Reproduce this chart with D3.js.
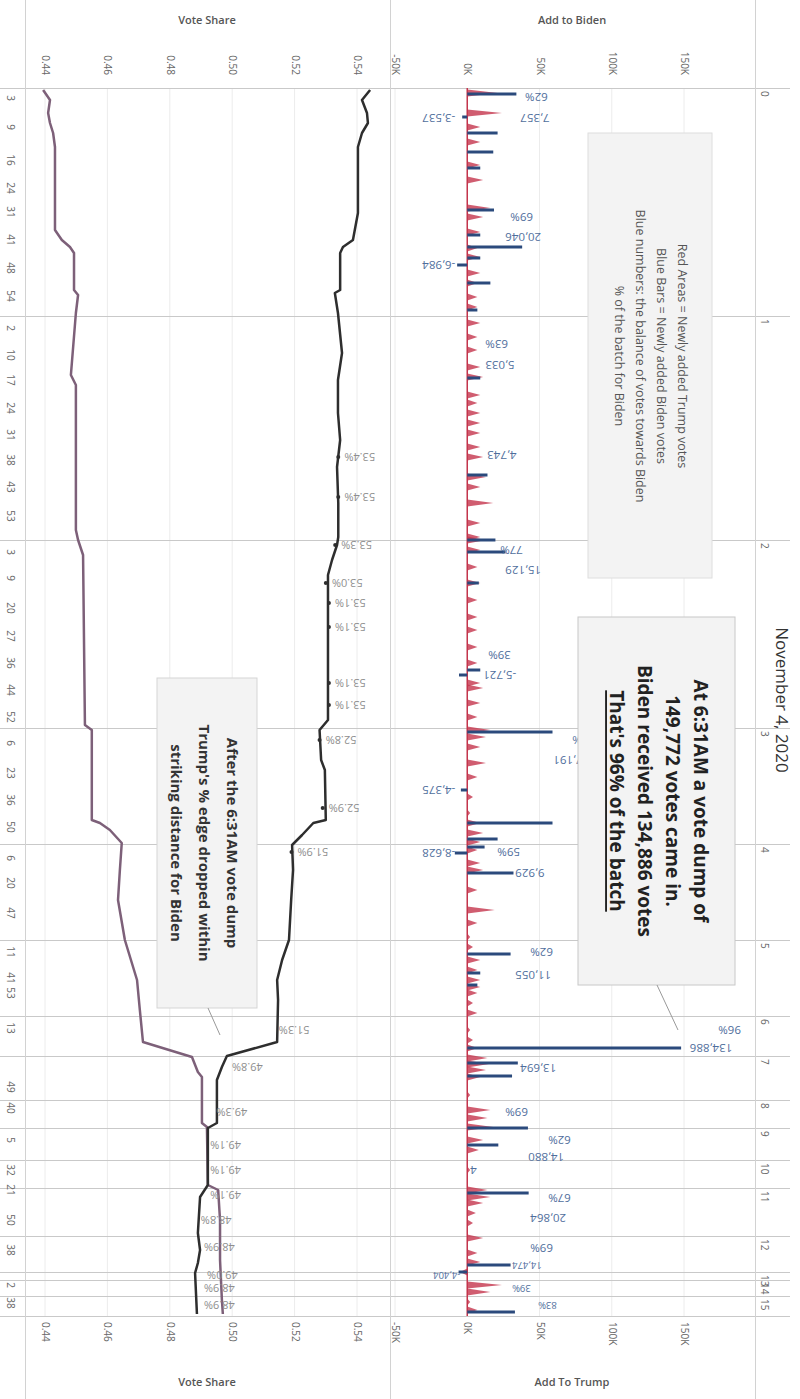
<!DOCTYPE html>
<html><head><meta charset="utf-8">
<script src="https://cdn.jsdelivr.net/npm/d3@7"></script>
<style>body{margin:0;background:#fff;} svg{display:block;font-family:"Open Sans",sans-serif;}</style>
</head><body><svg id="c" width="800" height="1399"></svg>
<script>
// ---------- DATA ----------
const hourLabels = ["0","1","2","3","4","5","6","7","8","9","10","11","12","13","14","15"];
const hourBatches = [57,56,47,29,24,19,10,11,7,8,7,12,9,2,4,5];
// [batch position, minute]
const minuteTicks = [[2.5,3],[9.75,9],[18,16],[25,24],[31,31],[38,41],[45,48],[52,54],
  [60,2],[66.75,10],[73,17],[80,24],[86.75,31],[93,38],[99.75,43],[107,53],
  [116,3],[122.5,9],[130,20],[137,27],[143.75,36],[150.5,44],[157.25,52],
  [163.75,6],[171.25,23],[178,36],[184.75,50],[192.5,6],[198.75,20],[206.25,47],
  [216,11],[222.5,41],[226.25,53],[235,13],[249.75,49],[255,40],[263,5],[270.5,32],
  [275.5,21],[283,50],[290.5,38],[299.25,2],[303.75,38]];
const shareTicks = [0.44,0.46,0.48,0.50,0.52,0.54];
const voteTicks = [-50000,0,50000,100000,150000];
// vote share: [batch position, share]
const trumpShare = [[0.5,0.5442],[3,0.5416],[6.25,0.5432],[8.75,0.5435],[11.25,0.5416],[14.75,0.5403],[31.25,0.5403],[38,0.5387],[39.75,0.5355],[41.25,0.5346],[50.5,0.5346],[51.25,0.5329],[56.25,0.5339],[66.25,0.5352],[73,0.5339],[81.25,0.5339],[88,0.5346],[94.75,0.5336],[103.75,0.5340],[112.25,0.5340],[114.25,0.5336],[118,0.5320],[121.75,0.5307],[158,0.5307],[160.5,0.5280],[168,0.5285],[170.5,0.5297],[183,0.5300],[183.75,0.5260],[186.75,0.5224],[189.25,0.5192],[195.5,0.5195],[203,0.5189],[213,0.5182],[218,0.5160],[223,0.5144],[228,0.5147],[238.5,0.5144],[242,0.4983],[244.75,0.4967],[248,0.4951],[258.75,0.4951],[260,0.4922],[274.25,0.4922],[277.25,0.4897],[286.25,0.4890],[290.5,0.4897],[293.75,0.4890],[296.25,0.4881],[306.5,0.4887]];
const bidenShare = [[0.5,0.4394],[3,0.4416],[6.25,0.4410],[8.75,0.4416],[11.25,0.4426],[14.75,0.4432],[35.5,0.4432],[38,0.4454],[39.75,0.4480],[41.25,0.4493],[50.5,0.4493],[51.75,0.4506],[56.25,0.4499],[71.75,0.4483],[74.25,0.4499],[110.5,0.4499],[113,0.4506],[116.75,0.4522],[159.25,0.4528],[160.5,0.4550],[183,0.4550],[183.75,0.4576],[185.5,0.4608],[188.75,0.4646],[195.5,0.4640],[203,0.4634],[213,0.4656],[223,0.4695],[230.5,0.4704],[238.5,0.4714],[242.25,0.4871],[246,0.4890],[247.25,0.4903],[258.75,0.4903],[259.75,0.4919],[274.25,0.4922],[275.5,0.4955],[283,0.4961],[293,0.4961],[303,0.4967],[306.5,0.4970]];
const trumpShareLabels = [[92.25,"53.4%"],[102.25,"53.4%"],[114.25,"53.3%"],[123.75,"53.0%"],[128.75,"53.1%"],[134.75,"53.1%"],[148.75,"53.1%"],[154.25,"53.1%"],[163,"52.8%"],[180,"52.9%"],[191,"51.9%"],[235.5,"51.3%"],[244.75,"49.8%"],[256,"49.3%"],[264.25,"49.1%"],[270.5,"49.1%"],[276.75,"49.1%"],[283,"48.8%"],[289.75,"48.9%"],[296.75,"49.0%"],[300,"48.9%"],[304.25,"48.9%"]];
// newly added votes per batch: [batch position, votes]
const bidenAdded = [[1.5,34000],[7.25,-3500],[11.25,21000],[16,18000],[20,9000],[30.5,18500],[36.75,9000],[39.75,38000],[42.5,9000],[44.25,-7000],[48.75,16000],[55.5,7000],[72.5,9000],[96.75,14000],[113,19500],[116,26500],[123.75,8000],[145.5,9000],[146.75,-5700],[161,59000],[175.5,-4400],[183.75,59000],[187.75,21000],[189.75,12000],[191.25,-8600],[196.25,32000],[216.5,30000],[221.25,9000],[224.25,7000],[240,148000],[243.75,35000],[247,31000],[260,42000],[264.25,21500],[276.25,42500],[294.25,30000],[296,-6000],[306,33000]];
const trumpAdded = [[1.25,21000],[6.25,24000],[9.75,9000],[13.5,9000],[19.25,9000],[23,11000],[30,16000],[32.25,11000],[36,9000],[40,7000],[42.25,9000],[46.25,9000],[48.75,7000],[52.25,7000],[54.75,7000],[58.75,9000],[62.25,7000],[65.5,7000],[69.75,9000],[72.25,11000],[76.75,9000],[78.75,7000],[81.25,9000],[83.75,9000],[86.25,9000],[89.75,9000],[92.25,11000],[97.25,13000],[99.75,9000],[103.75,18000],[108.75,9000],[112.25,9000],[113,13000],[115.5,9000],[119.75,7000],[123.75,9000],[128,7000],[132.25,7000],[135.5,7000],[139.75,7000],[143.75,7000],[148.75,9000],[150,11000],[153.75,9000],[157.25,7000],[160.5,16000],[162.25,13000],[164.75,9000],[168.75,13000],[172.25,7000],[177.25,4000],[181.25,2000],[183.75,9000],[186.25,11000],[188.5,9000],[190.5,7000],[193.75,9000],[195.5,11000],[200.5,7000],[205.5,19000],[208.75,7000],[212.25,2000],[214.75,4000],[218,9000],[220.5,7000],[223,9000],[224.75,9000],[226.25,7000],[228.75,4000],[231.25,7000],[235.5,2000],[238,4000],[240,7000],[242.5,14000],[244,15000],[245.5,13000],[247.25,9000],[251.75,2000],[255.5,16000],[257.5,14000],[259.75,18000],[263,11000],[265.5,8000],[270.5,2000],[275.5,14000],[277.25,16000],[278.75,11000],[281.25,6000],[283.75,4000],[287.5,11000],[291.25,7000],[293.5,9000],[296,-5000],[299.25,24000],[301,16000],[303.5,2000],[305.5,7000]];
// batch labels: [batch position, text, anchor value]
const batchLabels = [[2.25,"62%",40000],[7.5,"7,357",36700],[7.5,"-3,537",-8300],[32.25,"69%",29800],[37.25,"20,046",26300],[44.25,"-6,984",-8300],[64,"63%",12500],[69.25,"5,033",12500],[91.75,"4,743",13800],[115.5,"77%",22800],[120.5,"15,129",26300],[141.75,"39%",14500],[146.75,"-5,721",11000],[163,"63%",72700],[168,"17,191",59500],[175.5,"-4,375",-8300],[191,"59%",20800],[191.25,"-8,628",-8300],[196.25,"9,929",33200],[216,"62%",43600],[221.75,"11,055",33200],[235.5,"96%",173700],[240,"134,886",154000],[245,"13,694",36700],[256,"69%",26300],[263,"62%",56000],[267.25,"14,880",42200],[270.5,"4",2000],[277.5,"67%",56000],[282.5,"20,864",43600],[290,"69%",43600],[294.25,"14,474",31000],[296.75,"-4,404",-4800],[300,"39%",31000],[304.25,"83%",49000]];
const legendLines = ["Red Areas = Newly added Trump votes","Blue Bars = Newly added Biden votes","Blue numbers: the balance of votes towards Biden","% of the batch for Biden"];
const dumpNote = ["At 6:31AM a vote dump of","149,772 votes came in.","Biden received 134,886 votes","That's 96% of the batch"];
const edgeNote = ["After the 6:31AM vote dump","Trump's % edge dropped within","striking distance for Biden"];
const dateTitle = "November 4, 2020";

// ---------- CHART ----------
const svg = d3.select("#c");
const totalBatches = d3.sum(hourBatches);
const plotTop = 88, plotBot = 1316;
const y = d3.scaleLinear().domain([0,totalBatches]).range([plotTop,plotBot]);
const xS = d3.scaleLinear().domain([0.44,0.54]).range([45,357]);
const xV = d3.scaleLinear().domain([-50000,150000]).range([395,684]);
const starts = [0]; hourBatches.forEach((n,i)=>starts.push(starts[i]+n));

svg.append("rect").attr("width",800).attr("height",1399).attr("fill","#fff");

// vertical gridlines
const grid = svg.append("g").attr("stroke","#ececec").attr("stroke-width",1);
shareTicks.forEach(t=>grid.append("line").attr("x1",xS(t)).attr("x2",xS(t)).attr("y1",plotTop).attr("y2",plotBot));
voteTicks.forEach(t=>grid.append("line").attr("x1",xV(t)).attr("x2",xV(t)).attr("y1",plotTop).attr("y2",plotBot));

// hour boundaries
const hl = svg.append("g").attr("stroke","#c9c9c9").attr("stroke-width",1);
starts.forEach(s=>hl.append("line").attr("x1",0).attr("x2",790).attr("y1",Math.round(y(s))+0.5).attr("y2",Math.round(y(s))+0.5));
// frame
const fr = svg.append("g").attr("stroke","#d2d2d2");
[25,390,755].forEach(x=>fr.append("line").attr("x1",x+0.5).attr("x2",x+0.5).attr("y1",0).attr("y2",1399));

// minute labels
svg.append("g").selectAll("text").data(minuteTicks).join("text")
  .attr("transform",d=>`translate(11,${y(d[0])}) rotate(90)`)
  .attr("text-anchor","middle").attr("dominant-baseline","central")
  .attr("font-size",10).attr("fill","#666").text(d=>d[1]);
// hour labels
svg.append("g").selectAll("text").data(hourLabels).join("text")
  .attr("transform",(d,i)=>`translate(765,${y(starts[i])+3}) rotate(90)`)
  .attr("text-anchor","start").attr("dominant-baseline","central")
  .attr("font-size",10).attr("fill","#666").text(d=>d);

// axes
function styleAxis(g, anchor, dx){
  g.select(".domain").remove();
  g.selectAll("line").remove();
  g.selectAll("text").attr("transform","rotate(90)").attr("x",dx).attr("y",0).attr("dy","0.35em")
   .attr("text-anchor",anchor).attr("font-size",10).attr("fill","#666").attr("font-family","Open Sans, sans-serif");
}
const fmtS = d3.format(".2f");
const fmtV = d=> (d/1000)+"K";
svg.append("g").attr("transform","translate(0,77)").call(d3.axisTop(xS).tickValues(shareTicks).tickFormat(fmtS).tickSize(0)).call(g=>styleAxis(g,"end",-2));
svg.append("g").attr("transform","translate(0,77)").call(d3.axisTop(xV).tickValues(voteTicks).tickFormat(fmtV).tickSize(0)).call(g=>styleAxis(g,"end",-2));
svg.append("g").attr("transform","translate(0,1320)").call(d3.axisBottom(xS).tickValues(shareTicks).tickFormat(fmtS).tickSize(0)).call(g=>styleAxis(g,"start",2));
svg.append("g").attr("transform","translate(0,1320)").call(d3.axisBottom(xV).tickValues(voteTicks).tickFormat(fmtV).tickSize(0)).call(g=>styleAxis(g,"start",2));
const titles = [["Vote Share",207,24],["Add to Biden",572,24],["Vote Share",207,1386],["Add To Trump",572,1386]];
svg.append("g").selectAll("text").data(titles).join("text").attr("x",d=>d[1]).attr("y",d=>d[2])
  .attr("text-anchor","middle").attr("font-size",11).attr("font-weight",600).attr("fill","#555").text(d=>d[0]);

// red areas (Trump added)
svg.append("line").attr("x1",xV(0)).attr("x2",xV(0)).attr("y1",plotTop).attr("y2",plotBot).attr("stroke","#c4354c").attr("stroke-width",1.5);
const spike = d3.area().y(d=>y(d[0])).x0(xV(0)).x1(d=>xV(d[1]));
svg.append("g").selectAll("path").data(trumpAdded).join("path")
  .attr("d",d=>spike([[d[0]-0.85,0],[d[0],d[1]],[d[0]+0.85,0]]))
  .attr("fill","#c4354c").attr("fill-opacity",0.8);
// blue bars (Biden added)
svg.append("g").selectAll("line").data(bidenAdded).join("line")
  .attr("x1",xV(0)).attr("x2",d=>xV(d[1])).attr("y1",d=>y(d[0])).attr("y2",d=>y(d[0]))
  .attr("stroke","#2b4a7c").attr("stroke-width",3);

// vote share lines
const line = d3.line().x(d=>xS(d[1])).y(d=>y(d[0]));
svg.append("path").datum(bidenShare).attr("d",line).attr("fill","none").attr("stroke","#7d6079").attr("stroke-width",2.5).attr("stroke-linejoin","round");
svg.append("path").datum(trumpShare).attr("d",line).attr("fill","none").attr("stroke","#2e2e2e").attr("stroke-width",2.5).attr("stroke-linejoin","round");
svg.append("g").selectAll("circle").data(trumpShareLabels.slice(0,11)).join("circle")
  .attr("cx",d=>xS(parseFloat(d[1])/100)).attr("cy",d=>y(d[0])).attr("r",2).attr("fill","#2e2e2e");

// labels (upside-down as in the reference)
svg.append("g").selectAll("text").data(trumpShareLabels).join("text")
  .attr("transform",d=>`translate(${xS(parseFloat(d[1])/100)+6},${y(d[0])}) rotate(180)`)
  .attr("text-anchor","end").attr("dominant-baseline","central")
  .attr("font-size",11).attr("fill","#8e8e8e").text(d=>d[1]);
svg.append("g").selectAll("text").data(batchLabels).join("text")
  .attr("transform",d=>`translate(${xV(d[2])},${y(d[0])}) rotate(180)`)
  .attr("text-anchor",d=>d[2]<0?"start":"end").attr("dominant-baseline","central")
  .attr("font-size",d=>d[0]>293?9.5:11.5).attr("fill","#4f6e9c").text(d=>d[1]);

// note boxes
function note(x,yy,w,h,lines,cx,cy,size,gap,weight,color,stroke){
  svg.append("rect").attr("x",x).attr("y",yy).attr("width",w).attr("height",h).attr("fill","#f3f3f3").attr("stroke",stroke);
  const g = svg.append("g").attr("transform",`translate(${cx},${cy}) rotate(90)`);
  lines.forEach((t,i)=>g.append("text").attr("x",0).attr("y",(i-(lines.length-1)/2)*gap)
    .attr("text-anchor","middle").attr("dominant-baseline","central")
    .attr("font-size",size).attr("font-weight",weight).attr("fill",color).text(t));
  return g;
}
note(588,133,124,445,legendLines,651,356,12.5,21,400,"#555","#dedede");
const dg = note(578,617,157,368,dumpNote,659,801,19,28,700,"#222","#c8c8c8");
dg.select("text:last-child").attr("text-decoration","underline");
svg.append("line").attr("x1",657).attr("y1",985).attr("x2",678).attr("y2",1030).attr("stroke","#999");
note(157,678,100,330,edgeNote,205,843,15,28,700,"#333","#d5d5d5");
svg.append("line").attr("x1",208).attr("y1",1008).attr("x2",220).attr("y2",1035).attr("stroke","#999");

svg.append("text").attr("transform","translate(782,700) rotate(90)").attr("text-anchor","middle")
  .attr("dominant-baseline","central").attr("font-size",17).attr("fill","#333").text(dateTitle);
</script></body></html>
